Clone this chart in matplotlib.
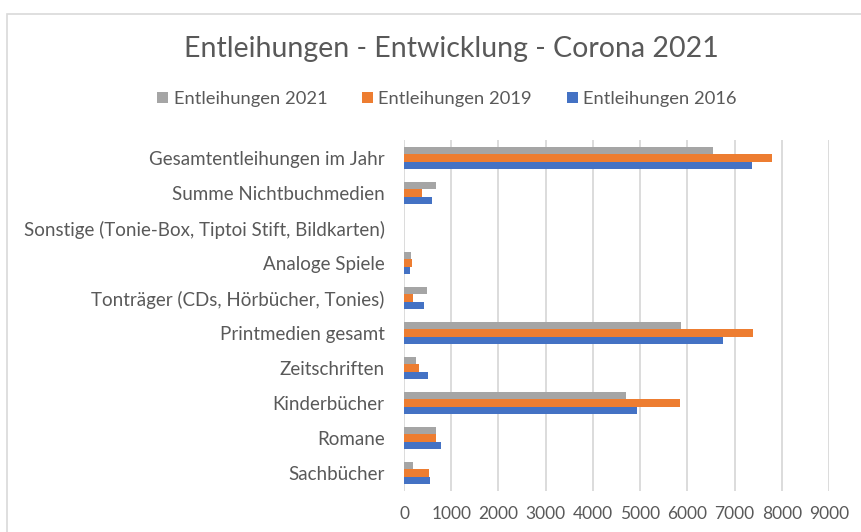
import matplotlib
matplotlib.use("Agg")
import matplotlib.pyplot as plt
from matplotlib.patches import Rectangle
import numpy as np

categories = [
    "Sachbücher",
    "Romane",
    "Kinderbücher",
    "Zeitschriften",
    "Printmedien gesamt",
    "Tonträger (CDs, Hörbücher, Tonies)",
    "Analoge Spiele",
    "Sonstige (Tonie-Box, Tiptoi Stift, Bildkarten)",
    "Summe Nichtbuchmedien",
    "Gesamtentleihungen im Jahr",
]
entl_2021 = [200, 680, 4700, 255, 5865, 480, 155, 0, 683, 6550]
entl_2019 = [528, 670, 5845, 317, 7400, 197, 162, 0, 380, 7790]
entl_2016 = [550, 775, 4930, 500, 6760, 430, 135, 0, 592, 7360]
xticks = [0, 1000, 2000, 3000, 4000, 5000, 6000, 7000, 8000, 9000]

plt.rcParams['font.family'] = ['Lato', 'DejaVu Sans']
txt = '#595959'

fig = plt.figure(figsize=(8.61, 5.32), dpi=100)
fig.patches.append(Rectangle((7/861, -0.1), 1.2, 1 - 14/532 + 0.1, transform=fig.transFigure,
                             fill=False, edgecolor='#d9d9d9', linewidth=1.2))
ax = fig.add_axes([404/861, 1 - 490.5/532, 425/861, 350/532])

y = np.arange(len(categories))
h = 0.21
ax.barh(y - h, entl_2016, height=h, color='#4472c4', label='Entleihungen 2016', zorder=3)
ax.barh(y, entl_2019, height=h, color='#ed7d31', label='Entleihungen 2019', zorder=3)
ax.barh(y + h, entl_2021, height=h, color='#a5a5a5', label='Entleihungen 2021', zorder=3)

ax.set_xlim(0, 9000)
ax.set_ylim(-0.5, len(categories) - 0.5)
ax.set_xticks(xticks)
ax.set_xticklabels([str(t) for t in xticks], color=txt, fontsize=12.5)
ax.set_yticks(y)
ax.set_yticklabels(categories, color=txt, fontsize=13.5)
ax.tick_params(axis='both', length=0)
ax.tick_params(axis='y', pad=14)
ax.tick_params(axis='x', pad=11)
ax.grid(axis='x', color='#d9d9d9', linewidth=1.3, zorder=0)
for s in ax.spines.values():
    s.set_visible(False)

fig.text(451/861, 1 - 49/532, 'Entleihungen - Entwicklung - Corona 2021', ha='center', va='center',
         fontsize=20.5, color=txt)

handles, labels = ax.get_legend_handles_labels()
fig.legend(handles[::-1], labels[::-1], loc='center', bbox_to_anchor=(447/861, 1 - 99/532), ncol=3,
           frameon=False, fontsize=13.2, labelcolor=txt, handlelength=0.6, handleheight=0.6,
           handletextpad=0.3, columnspacing=1.9)

fig.savefig('out.png', dpi=100)
